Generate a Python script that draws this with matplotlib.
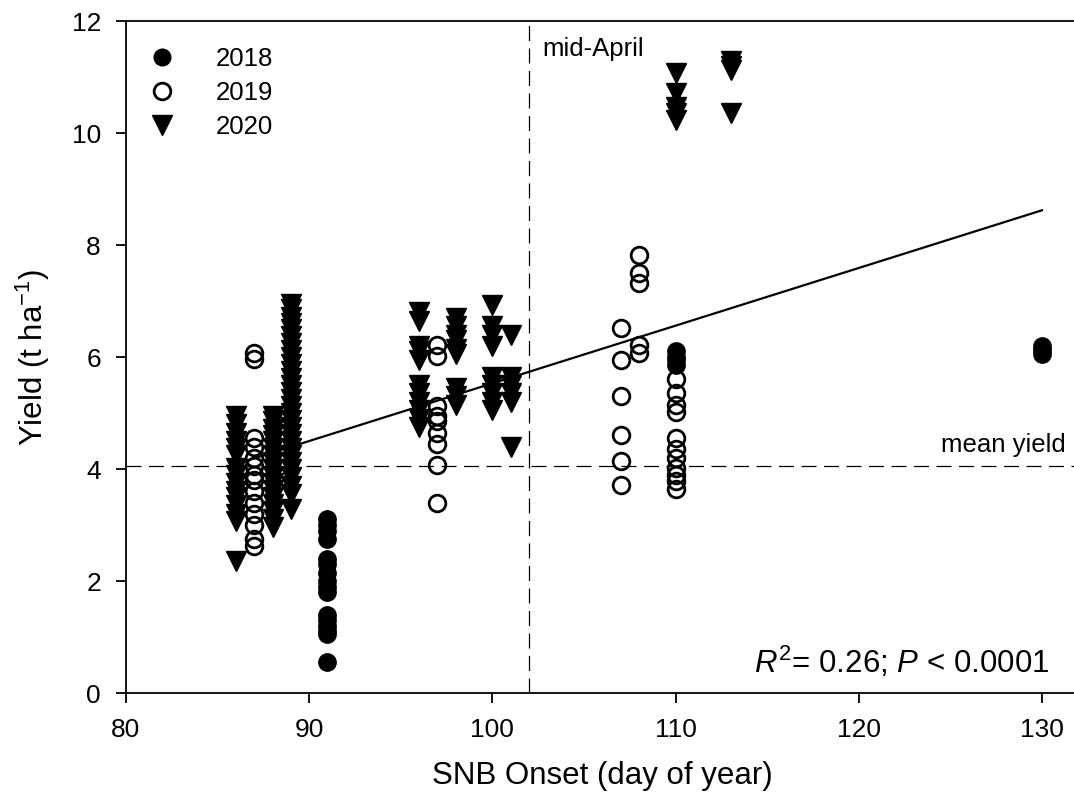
import numpy as np
import matplotlib
matplotlib.use("Agg")
import matplotlib.pyplot as plt
from matplotlib.lines import Line2D

plt.rcParams['font.family'] = ['Liberation Sans', 'DejaVu Sans']
plt.rcParams['mathtext.fontset'] = 'custom'
plt.rcParams['mathtext.rm'] = 'Liberation Sans'
plt.rcParams['mathtext.it'] = 'Liberation Sans:italic'

# SNB onset (day of year) for each group, and yields (t/ha)
days_2018 = [91, 110, 130]
yield_2018 = [
    [3.1, 3.0, 2.9, 2.75, 2.4, 2.3, 2.15, 2.0, 1.9, 1.8, 1.4, 1.3, 1.2, 1.1, 1.05, 0.55],
    [6.1, 6.0, 5.95, 5.85],
    [6.2, 6.12, 6.05],
]

days_2019 = [87, 97, 107, 108, 110]
yield_2019 = [
    [6.08, 5.97, 4.55, 4.4, 4.2, 4.05, 3.9, 3.8, 3.6, 3.4, 3.2, 3.0, 2.75, 2.62],
    [6.22, 6.02, 5.12, 4.95, 4.85, 4.65, 4.45, 4.07, 3.4],
    [6.52, 5.95, 5.3, 4.6, 4.15, 3.72],
    [7.82, 7.5, 7.32, 6.22, 6.08],
    [5.6, 5.35, 5.15, 5.02, 4.55, 4.35, 4.2, 4.02, 3.9, 3.78, 3.65],
]

days_2020 = [86, 88, 89, 96, 98, 100, 101, 110, 113]
yield_2020 = [
    [4.95, 4.8, 4.65, 4.5, 4.38, 4.25, 4.02, 3.9, 3.75, 3.6, 3.5, 3.35, 3.2, 3.07, 2.35],
    [4.95, 4.85, 4.72, 4.6, 4.5, 4.38, 4.25, 4.12, 4.0, 3.88, 3.75, 3.62, 3.5, 3.38, 3.25, 3.1, 2.97],
    [6.95, 6.85, 6.72, 6.6, 6.5, 6.38, 6.25, 6.12, 6.0, 5.88, 5.75, 5.62, 5.5, 5.38, 5.25,
     5.12, 5.0, 4.88, 4.75, 4.62, 4.5, 4.38, 4.25, 4.12, 4.0, 3.85, 3.7, 3.55, 3.28],
    [6.8, 6.65, 6.2, 6.1, 5.95, 5.5, 5.35, 5.2, 5.05, 4.9, 4.75],
    [6.7, 6.55, 6.4, 6.3, 6.15, 6.05, 5.45, 5.3, 5.15],
    [6.93, 6.55, 6.4, 6.2, 5.65, 5.5, 5.35, 5.2, 5.05],
    [6.4, 5.65, 5.5, 5.35, 5.2, 4.39],
    [11.08, 10.72, 10.46, 10.36, 10.23],
    [11.28, 11.2, 11.12, 10.35],
]

# regression line, reference lines
fit_slope = 0.103
fit_intercept = -4.77
fit_range = [86, 130]
mean_yield = 4.05
mid_april = 102


def expand(days, ylists):
    x = np.concatenate([[d] * len(v) for d, v in zip(days, ylists)])
    y = np.concatenate(ylists)
    return x, y


fig = plt.figure(figsize=(10.74, 8.05), dpi=100)
ax = fig.add_axes([0.1173, 0.1391, 0.887, 0.8348])

ax.axhline(mean_yield, color='black', lw=0.9, ls=(0, (12, 6)), zorder=1)
ax.axvline(mid_april, color='black', lw=0.9, ls=(0, (12, 6)), zorder=1)

xf = np.array(fit_range, dtype=float)
ax.plot(xf, fit_intercept + fit_slope * xf, color='black', lw=1.6, zorder=2)

x18, y18 = expand(days_2018, yield_2018)
x19, y19 = expand(days_2019, yield_2019)
x20, y20 = expand(days_2020, yield_2020)

ax.plot(x18, y18, 'o', ms=12, mfc='black', mec='black', mew=1.5, zorder=3)
ax.plot(x19, y19, 'o', ms=12, mfc='none', mec='black', mew=2.0, zorder=3)
ax.plot(x20, y20, 'v', ms=14.5, mfc='black', mec='black', mew=1.0, zorder=3)

ax.set_xlim(80, 132)
ax.set_ylim(0, 12)
ax.set_xticks([80, 90, 100, 110, 120, 130])
ax.set_yticks([0, 2, 4, 6, 8, 10, 12])
ax.spines['right'].set_visible(False)
for s in ['left', 'bottom', 'top']:
    ax.spines[s].set_linewidth(1.3)
ax.tick_params(direction='out', length=7, width=1.3, labelsize=19, pad=11)

ax.set_xlabel('SNB Onset (day of year)', fontsize=22.5, labelpad=14)
ax.set_ylabel('Yield (t ha$^{-1}$)', fontsize=22.5, labelpad=14)

ax.text(mid_april + 0.7, 11.5, 'mid-April', fontsize=18.5, va='center', ha='left')
ax.text(131.3, mean_yield + 0.38, 'mean yield', fontsize=18.5, va='center', ha='right')
ax.text(130.4, 0.55, r'$R^2$= 0.26; $P$ < 0.0001', fontsize=22.5, ha='right', va='center')

handles = [
    Line2D([], [], marker='o', ls='none', ms=12, mfc='black', mec='black'),
    Line2D([], [], marker='o', ls='none', ms=12, mfc='none', mec='black', mew=2.0),
    Line2D([], [], marker='v', ls='none', ms=14.5, mfc='black', mec='black'),
]
ax.legend(handles, ['2018', '2019', '2020'], loc='upper left', bbox_to_anchor=(0.0, 0.985),
          frameon=False, fontsize=18.5, handletextpad=1.3, handlelength=1.6,
          labelspacing=0.4, borderaxespad=0.2)

fig.savefig('out.png', dpi=100)
